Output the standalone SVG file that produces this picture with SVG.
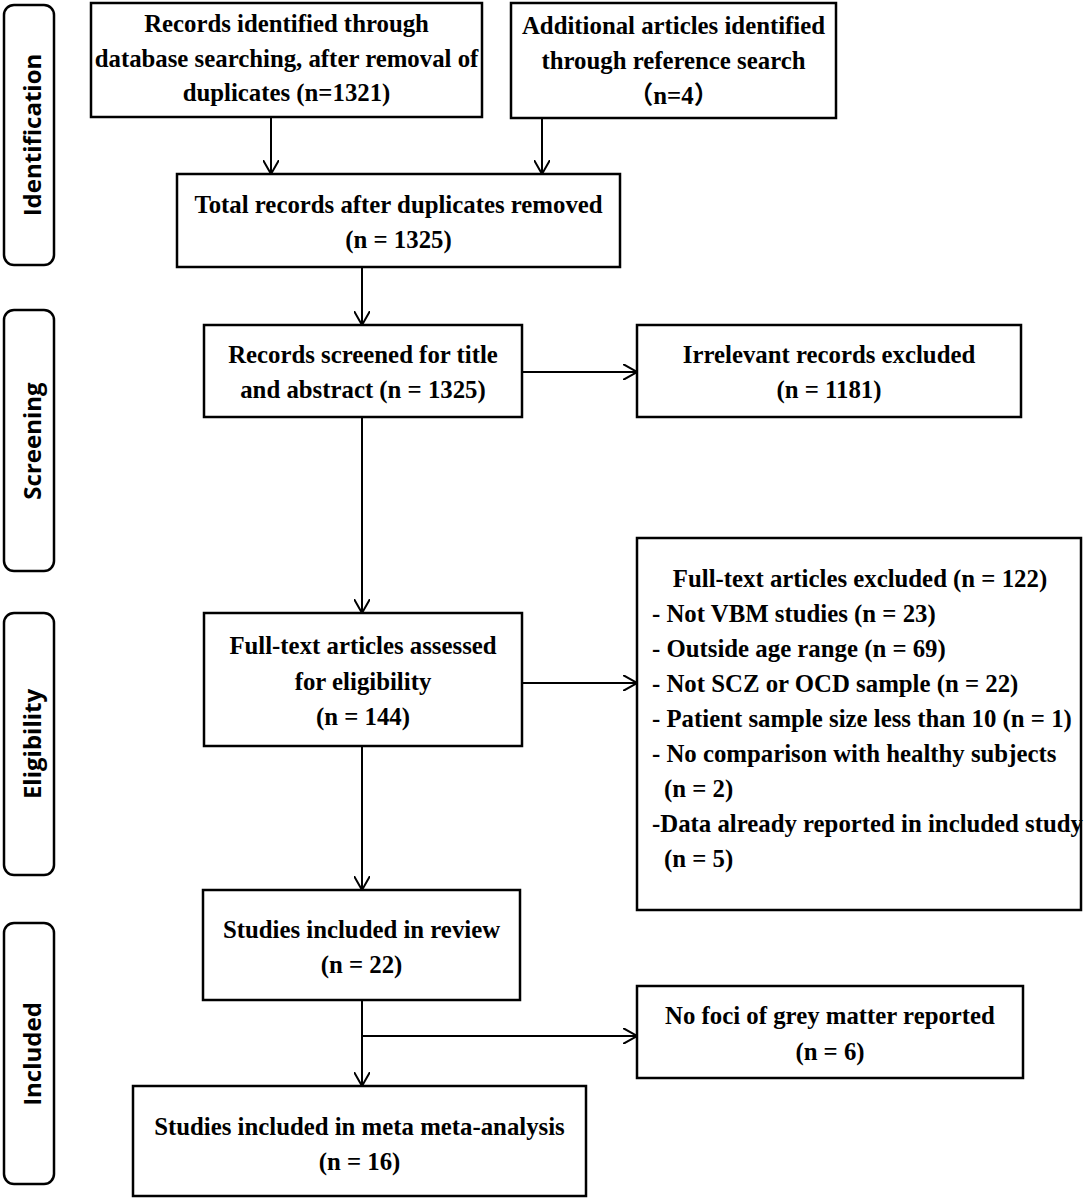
<svg xmlns="http://www.w3.org/2000/svg" width="1084" height="1200" viewBox="0 0 1084 1200">
<style>
.box{fill:#fff;stroke:#000;stroke-width:2.5}
.lbl{fill:#fff;stroke:#000;stroke-width:2.5}
.t{font-family:"Liberation Serif","Noto Sans CJK SC",serif;font-weight:bold;font-size:24.8px;fill:#000}
.c{text-anchor:middle}
.s{font-family:"Open Sans","Liberation Sans",sans-serif;font-weight:bold;font-size:24px;fill:#000;text-anchor:middle;dominant-baseline:central}
.ln{fill:none;stroke:#000;stroke-width:2}
</style>
<defs>
<marker id="ah" viewBox="0 0 14 16" refX="14" refY="8" markerWidth="14" markerHeight="16" markerUnits="userSpaceOnUse" orient="auto">
<path d="M0,0 L14,8 L0,16" fill="none" stroke="#000" stroke-width="2"/>
</marker>
</defs>
<g id="phase-identification"><rect class="lbl" x="4" y="5" width="50" height="260" rx="10"/><text class="s" transform="translate(31,135) rotate(-90)">Identification</text></g>
<g id="phase-screening"><rect class="lbl" x="4" y="310" width="50" height="261" rx="10"/><text class="s" transform="translate(31,441) rotate(-90)">Screening</text></g>
<g id="phase-eligibility"><rect class="lbl" x="4" y="613" width="50" height="262" rx="10"/><text class="s" transform="translate(31,744) rotate(-90)">Eligibility</text></g>
<g id="phase-included"><rect class="lbl" x="4" y="923" width="50" height="261" rx="10"/><text class="s" transform="translate(31,1054) rotate(-90)">Included</text></g>

<g id="connectors">
<line class="ln" x1="271" y1="117" x2="271" y2="174" marker-end="url(#ah)"/>
<line class="ln" x1="542" y1="116" x2="542" y2="174" marker-end="url(#ah)"/>
<line class="ln" x1="362" y1="267" x2="362" y2="325" marker-end="url(#ah)"/>
<line class="ln" x1="522" y1="372" x2="637" y2="372" marker-end="url(#ah)"/>
<line class="ln" x1="362" y1="417" x2="362" y2="613" marker-end="url(#ah)"/>
<line class="ln" x1="522" y1="683" x2="637" y2="683" marker-end="url(#ah)"/>
<line class="ln" x1="362" y1="746" x2="362" y2="890" marker-end="url(#ah)"/>
<line class="ln" x1="362" y1="1000" x2="362" y2="1086" marker-end="url(#ah)"/>
<line class="ln" x1="362" y1="1036" x2="637" y2="1036" marker-end="url(#ah)"/>
</g>

<g id="records-db"><rect class="box" x="91" y="3" width="391" height="114"/>
<text class="t c" x="286.5" y="32">Records identified through</text>
<text class="t c" x="286.5" y="67">database searching, after removal of</text>
<text class="t c" x="286.5" y="101">duplicates (n=1321)</text></g>

<g id="records-additional"><rect class="box" x="511" y="3" width="325" height="115"/>
<text class="t c" x="673.5" y="34">Additional articles identified</text>
<text class="t c" x="673.5" y="69">through reference search</text>
<text class="t c" x="673.5" y="104">（n=4）</text></g>

<g id="total-records"><rect class="box" x="177" y="174" width="443" height="93"/>
<text class="t c" x="398.5" y="213">Total records after duplicates removed</text>
<text class="t c" x="398.5" y="248">(n = 1325)</text></g>

<g id="screened"><rect class="box" x="204" y="325" width="318" height="92"/>
<text class="t c" x="363" y="363">Records screened for title</text>
<text class="t c" x="363" y="398">and abstract (n = 1325)</text></g>

<g id="irrelevant"><rect class="box" x="637" y="325" width="384" height="92"/>
<text class="t c" x="829" y="363">Irrelevant records excluded</text>
<text class="t c" x="829" y="398">(n = 1181)</text></g>

<g id="fulltext"><rect class="box" x="204" y="613" width="318" height="133"/>
<text class="t c" x="363" y="654">Full-text articles assessed</text>
<text class="t c" x="363" y="690">for eligibility</text>
<text class="t c" x="363" y="725">(n = 144)</text></g>

<g id="fulltext-excluded"><rect class="box" x="637" y="538" width="444" height="372"/>
<text class="t c" x="860" y="587">Full-text articles excluded (n = 122)</text>
<text class="t" x="652" y="622">- Not VBM studies (n = 23)</text>
<text class="t" x="652" y="657">- Outside age range (n = 69)</text>
<text class="t" x="652" y="692">- Not SCZ or OCD sample (n = 22)</text>
<text class="t" x="652" y="727">- Patient sample size less than 10 (n = 1)</text>
<text class="t" x="652" y="762">- No comparison with healthy subjects</text>
<text class="t" x="664" y="797">(n = 2)</text>
<text class="t" x="652" y="832">-Data already reported in included study</text>
<text class="t" x="664" y="867">(n = 5)</text></g>

<g id="review"><rect class="box" x="203" y="890" width="317" height="110"/>
<text class="t c" x="361.5" y="938">Studies included in review</text>
<text class="t c" x="361.5" y="973">(n = 22)</text></g>

<g id="no-foci"><rect class="box" x="637" y="986" width="386" height="92"/>
<text class="t c" x="830" y="1024">No foci of grey matter reported</text>
<text class="t c" x="830" y="1060">(n = 6)</text></g>

<g id="meta"><rect class="box" x="133" y="1086" width="453" height="110"/>
<text class="t c" x="359.5" y="1135">Studies included in meta meta-analysis</text>
<text class="t c" x="359.5" y="1170">(n = 16)</text></g>
</svg>
